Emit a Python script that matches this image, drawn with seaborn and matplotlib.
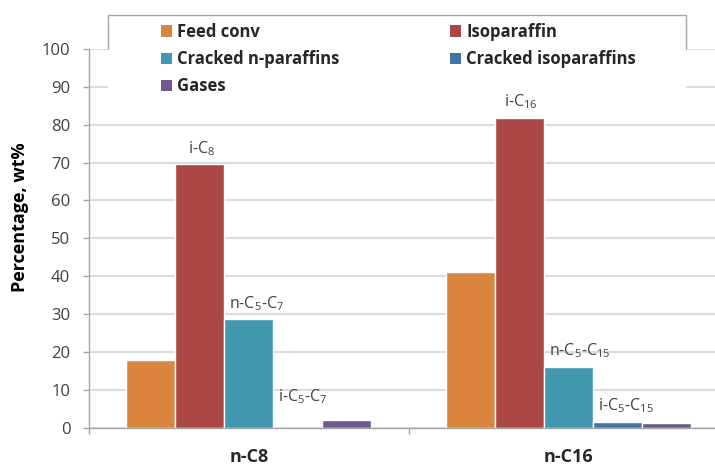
import matplotlib
matplotlib.use('Agg')
import numpy as np
import pandas as pd
import matplotlib.pyplot as plt
import seaborn as sns
from matplotlib.patches import Patch, Rectangle
from matplotlib.lines import Line2D

# Dados
grupos = ['n-C8', 'n-C16']
series = ['Feed conv', 'Isoparaffin', 'Cracked n-paraffins', 'Cracked isoparaffins', 'Gases']
feed_conv = [17.8, 41.0]
isoparaffin = [69.5, 81.9]
cracked_n = [28.6, 16.0]
cracked_iso = [0.0, 1.45]
gases = [2.05, 1.1]
cores = ['#DB843D', '#AA4643', '#4198AF', '#4572A7', '#71588F']

# rótulos sobre as barras: (serie, grupo) -> texto
rotulos = {
    ('Isoparaffin', 'n-C8'): r'i-C$_8$',
    ('Cracked n-paraffins', 'n-C8'): r'n-C$_5$-C$_7$',
    ('Cracked isoparaffins', 'n-C8'): r'i-C$_5$-C$_7$',
    ('Isoparaffin', 'n-C16'): r'i-C$_{16}$',
    ('Cracked n-paraffins', 'n-C16'): r'n-C$_5$-C$_{15}$',
    ('Cracked isoparaffins', 'n-C16'): r'i-C$_5$-C$_{15}$',
}

valores = [feed_conv, isoparaffin, cracked_n, cracked_iso, gases]
dados = pd.DataFrame({
    'Grupo': grupos * len(series),
    'Serie': [s for s in series for _ in grupos],
    'Valor': [v for vals in valores for v in vals],
})

sns.set_style('white')
plt.rcParams['font.family'] = ['Open Sans', 'DejaVu Sans']
plt.rcParams['mathtext.default'] = 'regular'

W, H = 715, 466
fig = plt.figure(figsize=(W / 100, H / 100), dpi=100)
ax = fig.add_axes([89 / W, (H - 427.5) / H, 639 / W, 378.5 / H])

sns.barplot(data=dados, x='Grupo', y='Valor', hue='Serie', order=grupos,
            hue_order=series, palette=cores, width=0.766, saturation=1,
            legend=False, ax=ax, zorder=2)

ax.set_xlim(-0.5, 1.5)
ax.set_ylim(0, 100)
ax.set_yticks(np.arange(0, 101, 10))
ax.yaxis.grid(True, color='#DCDCDC', lw=1.5, zorder=0)
ax.set_axisbelow(True)
for s in ['top', 'right']:
    ax.spines[s].set_visible(False)
for s in ['left', 'bottom']:
    ax.spines[s].set_color('#A6A6A6')
    ax.spines[s].set_linewidth(1)

ax.tick_params(axis='y', which='major', length=4.5, width=1, color='#A6A6A6',
               direction='out', pad=9, labelsize=12, labelcolor='#404040', left=True)
ax.set_xticks([-0.5, 0.5, 1.5], minor=True)
ax.tick_params(axis='x', which='minor', length=4, width=1, color='#A6A6A6',
               direction='out', bottom=True)
ax.tick_params(axis='x', which='major', length=0, pad=15, labelsize=13)
for t in ax.get_xticklabels():
    t.set_fontweight('bold')

ax.set_xlabel('')
ax.set_ylabel('Percentage, wt%', fontsize=13, fontweight='bold', color='black')
ax.yaxis.set_label_coords(-60 / 639, 0.555)

# rótulos das barras
for i, serie in enumerate(series):
    for j, grupo in enumerate(grupos):
        texto = rotulos.get((serie, grupo))
        if texto is None:
            continue
        barra = ax.containers[i][j]
        alto = barra.get_height()
        dy = 31 if alto < 0.5 else 16
        if serie == 'Isoparaffin':
            x, ha, dx = barra.get_x() + barra.get_width() / 2, 'center', 2
        else:
            x, ha, dx = barra.get_x(), 'left', 5
        ax.annotate(texto, (x, alto), xytext=(dx, dy), textcoords='offset pixels',
                    ha=ha, va='center', fontsize=11.5, color='#404040')

# caixa da legenda (formato com recorte)
fig.patches.append(Rectangle((108 / W, 1 - 93 / H), (686 - 108) / W, (93 - 15) / H,
                             transform=fig.transFigure, facecolor='white',
                             edgecolor='none', zorder=3))
fig.lines.append(Line2D([108 / W, 108 / W, 686 / W, 686 / W],
                        [1 - 49 / H, 1 - 15 / H, 1 - 15 / H, 1 - 49 / H],
                        transform=fig.transFigure, color='#A6A6A6', lw=1, zorder=4))

alcas = [Patch(facecolor=c, edgecolor='none') for c in cores]
props = {'weight': 'bold', 'size': 12}
for idx, x0 in [([0, 2, 4], 161), ([1, 3], 450)]:
    fig.legend([alcas[k] for k in idx], [series[k] for k in idx],
               loc='upper left', bbox_to_anchor=(x0 / W, 1 - 23 / H),
               frameon=False, prop=props, handlelength=0.68, handleheight=0.68,
               handletextpad=0.3, labelspacing=0.55, borderpad=0, borderaxespad=0)

fig.savefig('out.png', dpi=100)
